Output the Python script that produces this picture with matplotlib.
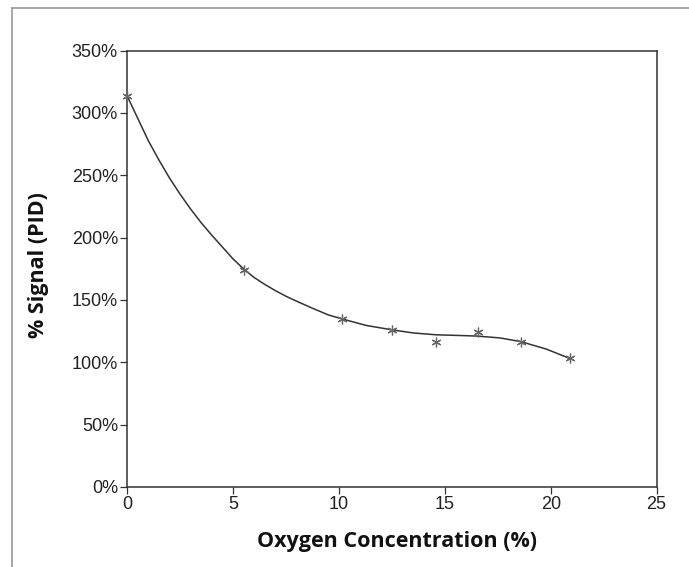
import matplotlib
matplotlib.use("Agg")
import matplotlib.pyplot as plt
from matplotlib.lines import Line2D

# Data
oxygen_pts = [0.0, 5.5, 10.15, 12.5, 14.6, 16.55, 18.6, 20.9]
signal_pts = [314, 174, 135, 126, 116, 124, 116.5, 103]

curve_x = [0.0, 0.5, 1.0, 1.5, 2.0, 2.5, 3.0, 3.5, 4.0, 4.5, 5.0, 5.5, 6.0, 6.5, 7.0, 7.5, 8.0, 8.8,
           9.5, 10.2, 11.3, 12.5, 13.5, 14.6, 15.6, 16.5, 17.6, 18.6, 19.8, 20.9]
curve_y = [314, 296, 278, 262.5, 248, 235, 223, 212, 202, 192.5, 183, 175, 168, 162.5, 157.5, 153, 149, 143,
           138, 134.5, 129.5, 126, 123.5, 122, 121.5, 121, 119.5, 116.5, 110.5, 103]

x_ticks = [0, 5, 10, 15, 20, 25]
y_ticks = [0, 50, 100, 150, 200, 250, 300, 350]
y_tick_labels = [f"{v}%" for v in y_ticks]

fig = plt.figure(figsize=(6.89, 5.67), dpi=100)
ax = fig.add_axes([0.1843, 0.1414, 0.953 - 0.1843, 0.9106 - 0.1414])

ax.plot(curve_x, curve_y, color="#333333", lw=1.1, zorder=2)
ax.plot(oxygen_pts, signal_pts, linestyle="none", marker=(6, 2, 0), ms=7,
        mew=0.9, color="#666666", zorder=3, clip_on=False)

ax.set_xlim(0, 25)
ax.set_ylim(0, 350)
ax.set_xticks(x_ticks)
ax.set_yticks(y_ticks)
ax.set_yticklabels(y_tick_labels)

for lab in ax.get_xticklabels() + ax.get_yticklabels():
    lab.set_fontfamily("Liberation Sans")
    lab.set_fontsize(13)
    lab.set_color("#222222")

ax.tick_params(axis="both", direction="out", length=5, width=0.9, color="#333333", pad=1.5)
for side, sp in ax.spines.items():
    sp.set_color("#333333")
    sp.set_linewidth(1.1)

ax.set_xlabel("Oxygen Concentration (%)", fontfamily="Open Sans", fontweight="bold",
              fontsize=15.5, color="#111111")
ax.xaxis.set_label_coords((397 - 126.7) / (656.7 - 126.7), -(531 - 486.8) / (486.8 - 50.7))
ax.set_ylabel("% Signal (PID)", fontfamily="Open Sans", fontweight="bold",
              fontsize=15.5, color="#111111")
ax.yaxis.set_label_coords(-(126.7 - 49) / (656.7 - 126.7), (486.8 - 265) / (486.8 - 50.7))

# Outer frame lines (left and top)
fig.add_artist(Line2D([12/689, 12/689], [0, 1 - 8/567], transform=fig.transFigure,
                      color="#999999", lw=1.2))
fig.add_artist(Line2D([12/689, 1], [1 - 8/567, 1 - 8/567], transform=fig.transFigure,
                      color="#999999", lw=1.2))

fig.savefig("out.png", dpi=100)
